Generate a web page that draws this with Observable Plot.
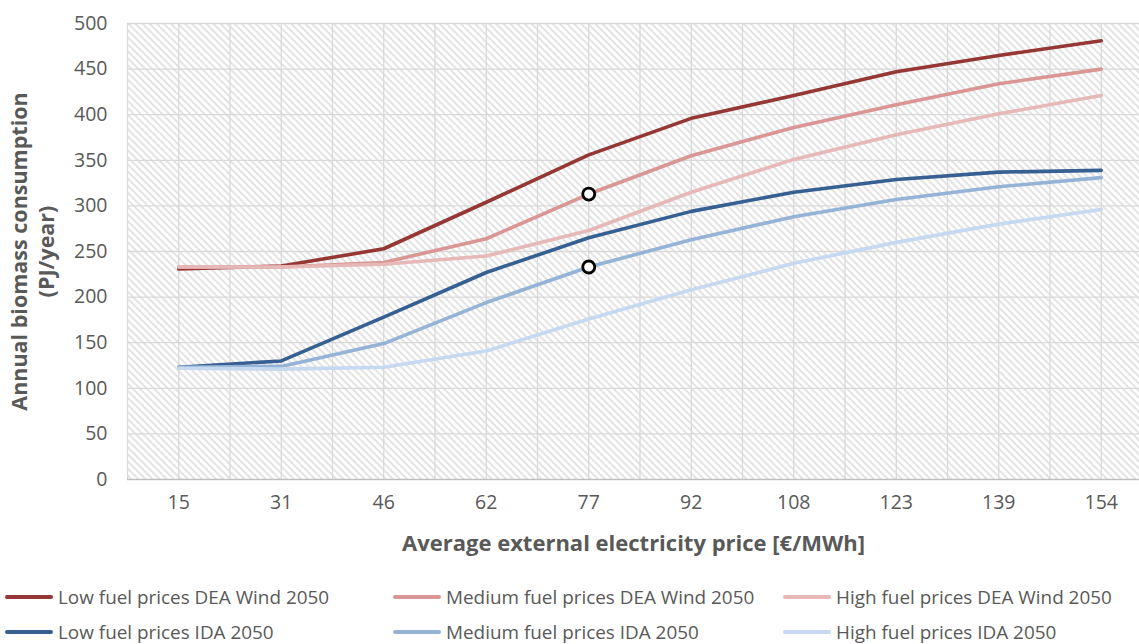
<!DOCTYPE html>
<html><head><meta charset="utf-8">
<script src="https://cdn.jsdelivr.net/npm/d3@7"></script>
<script src="https://cdn.jsdelivr.net/npm/@observablehq/plot@0.6"></script>
<style>
body{margin:0;background:#fff;font-family:"Open Sans",sans-serif;overflow:hidden;}
#wrap{position:relative;width:1139px;height:644px;}
#legend{position:absolute;left:0;top:580px;width:1139px;height:64px;}
.li{position:absolute;display:flex;align-items:center;font-size:18.9px;color:#595959;white-space:nowrap;height:26px;}
.sw{width:48px;height:3.5px;border-radius:2px;margin-right:5px;}
</style></head>
<body><div id="wrap"><div id="chart"></div><div id="legend"></div></div>
<script>
const prices = [15, 31, 46, 62, 77, 92, 108, 123, 139, 154];
const seriesNames = [
  "Low fuel prices DEA Wind 2050",
  "Medium fuel prices DEA Wind 2050",
  "High fuel prices DEA Wind 2050",
  "Low fuel prices IDA 2050",
  "Medium fuel prices IDA 2050",
  "High fuel prices IDA 2050"
];
const lowDEA  = [231, 234, 253, 304, 356, 396, 421, 447, 465, 481];
const medDEA  = [233, 233, 238, 264, 313, 355, 386, 411, 434, 450];
const highDEA = [233, 233, 236, 245, 273, 315, 351, 378, 401, 421];
const lowIDA  = [123, 130, 178, 227, 265, 294, 315, 329, 337, 339];
const medIDA  = [123, 124, 149, 194, 233, 263, 288, 307, 321, 331];
const highIDA = [122, 121, 123, 141, 176, 208, 237, 260, 280, 296];
const colors = ["#953735", "#D99694", "#E6B9B8", "#376092", "#95B3D7", "#C6D9F1"];
const yTicks = [0, 50, 100, 150, 200, 250, 300, 350, 400, 450, 500];
const markers = [{s: 1, i: 4}, {s: 4, i: 4}]; // highlighted points: series index, category index

const allSeries = [lowDEA, medDEA, highDEA, lowIDA, medIDA, highIDA];
const rows = allSeries.flatMap((vals, s) => vals.map((v, i) => ({i, v, s: seriesNames[s]})));
const markerRows = markers.map(m => ({i: m.i, v: allSeries[m.s][m.i]}));
const gridX = d3.range(-0.5, prices.length, 0.5);

const chart = Plot.plot({
  width: 1139, height: 575,
  marginLeft: 127, marginRight: 0, marginTop: 23, marginBottom: 96,
  style: {fontFamily: "'Open Sans', sans-serif", fontSize: "19.5px", color: "#595959", background: "transparent", overflow: "hidden"},
  x: {type: "linear", domain: [-0.5, prices.length - 0.5], range: [127, 1152]},
  y: {domain: [0, 500], range: [479, 23]},
  color: {domain: seriesNames, range: colors},
  marks: [
    Plot.frame({fill: "url(#hatch)", stroke: "none"}),
    Plot.ruleX(gridX, {stroke: "#d9d9d9", strokeWidth: 1.3, strokeOpacity: 1}),
    Plot.ruleY(yTicks.slice(1), {stroke: "#d9d9d9", strokeWidth: 1.3, strokeOpacity: 1}),
    Plot.ruleY([0], {stroke: "#bfbfbf", strokeWidth: 1.5}),
    Plot.axisY({ticks: yTicks, tickSize: 0, tickPadding: 20, label: null, fontSize: 19.5}),
    Plot.axisX({ticks: d3.range(prices.length), tickFormat: i => prices[i], tickSize: 0, tickPadding: 16, label: null, fontSize: 19.5}),
    Plot.line(rows, {x: "i", y: "v", z: "s", stroke: "s", strokeWidth: 3.6, curve: "linear", strokeLinejoin: "round", strokeLinecap: "round"}),
    Plot.dot(markerRows, {x: "i", y: "v", r: 6, fill: "white", stroke: "black", strokeWidth: 2.8}),
    Plot.text(["Annual biomass consumption\n(PJ/year)"], {frameAnchor: "left", textAnchor: "middle", lineAnchor: "middle", rotate: -90, dx: -96, fontSize: 21.5, fontWeight: "bold", lineHeight: 1.25, fill: "#595959"}),
    Plot.text(["Average external electricity price [€/MWh]"], {frameAnchor: "bottom", textAnchor: "middle", lineAnchor: "middle", dy: 64, fontSize: 22, fontWeight: "bold", fill: "#595959"})
  ]
});

// hatch pattern definition
const ns = "http://www.w3.org/2000/svg";
const defs = document.createElementNS(ns, "defs");
defs.innerHTML = `<pattern id="hatch" patternUnits="userSpaceOnUse" width="5" height="5" patternTransform="rotate(45)">
  <rect width="5" height="5" fill="#ffffff"/>
  <rect width="5" height="1.8" fill="#e0e0e0"/>
</pattern>`;
chart.insertBefore(defs, chart.firstChild);
document.getElementById("chart").appendChild(chart);

// legend
const legend = document.getElementById("legend");
const colX = [5, 393, 783];
const rowY = [4, 39];
seriesNames.forEach((name, k) => {
  const d = document.createElement("div");
  d.className = "li";
  d.style.left = colX[k % 3] + "px";
  d.style.top = rowY[Math.floor(k / 3)] + "px";
  d.innerHTML = `<span class="sw" style="background:${colors[k]}"></span><span>${name}</span>`;
  legend.appendChild(d);
});
</script></body></html>
